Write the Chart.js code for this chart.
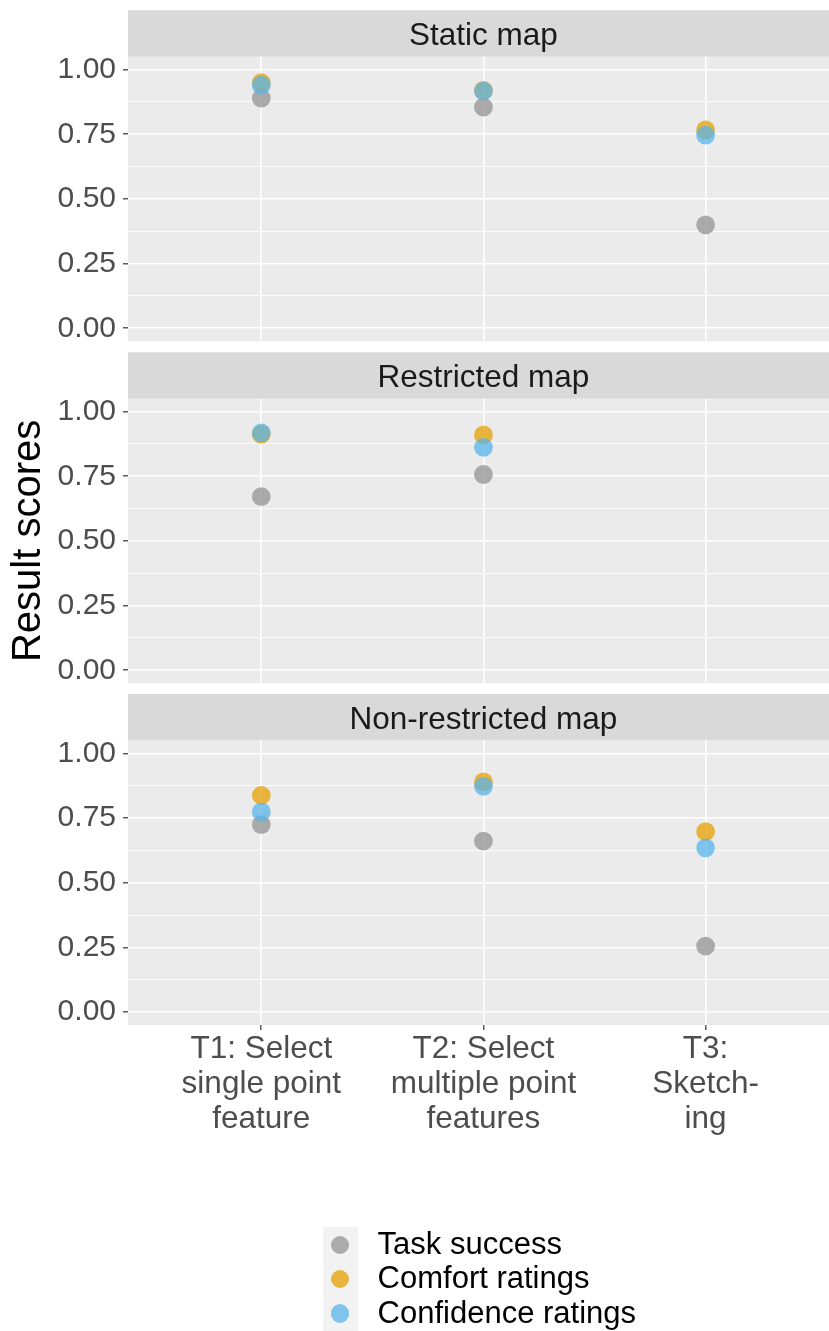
<!DOCTYPE html>
<html>
<head>
<meta charset="utf-8">
<script src="https://cdn.jsdelivr.net/npm/chart.js@4.4.1/dist/chart.umd.min.js"></script>
<style>
html,body{margin:0;padding:0;background:#ffffff;}
#wrap{position:relative;width:829px;height:1331px;overflow:hidden;font-family:"Liberation Sans",Arial,sans-serif;}
#wrap canvas{position:absolute;left:0;top:0;}
#legend{position:absolute;left:0;top:0;width:829px;height:1331px;pointer-events:none;}
.lkbg{position:absolute;background:#F2F2F2;}
.lk{position:absolute;border-radius:50%;}
.lt{position:absolute;font-size:31px;line-height:34px;color:#000;white-space:nowrap;}
</style>
</head>
<body>
<div id="wrap">
  <canvas id="c0" width="829" height="1331" style="width:829px;height:1331px"></canvas>
  <canvas id="c1" width="829" height="1331" style="width:829px;height:1331px"></canvas>
  <canvas id="c2" width="829" height="1331" style="width:829px;height:1331px"></canvas>
  <div id="legend"></div>
</div>
<script>
// ---------- data ----------
const panelTitles = ['Static map', 'Restricted map', 'Non-restricted map'];
const categories = ['T1', 'T2', 'T3'];
const xTickLabels = [
  ['T1: Select', 'single point', 'feature'],
  ['T2: Select', 'multiple point', 'features'],
  ['T3:', 'Sketch-', 'ing']
];
const yTickValues = [0, 0.25, 0.5, 0.75, 1];
const yTickLabels = ['0.00', '0.25', '0.50', '0.75', '1.00'];
const yGridValues = [0, 0.125, 0.25, 0.375, 0.5, 0.625, 0.75, 0.875, 1];
const yTitle = 'Result scores';
const seriesNames = ['Task success', 'Comfort ratings', 'Confidence ratings'];
const seriesColors = ['rgba(153,153,153,0.8)', 'rgba(230,159,0,0.74)', 'rgba(86,180,233,0.74)'];

const staticTask       = [0.890, 0.855, 0.400];
const staticComfort    = [0.950, 0.920, 0.767];
const staticConfidence = [0.940, 0.917, 0.747];

const restrictedTask       = [0.671, 0.757, null];
const restrictedComfort    = [0.912, 0.910, null];
const restrictedConfidence = [0.918, 0.862, null];

const nonRestrictedTask       = [0.725, 0.661, 0.255];
const nonRestrictedComfort    = [0.838, 0.890, 0.698];
const nonRestrictedConfidence = [0.774, 0.873, 0.635];

const panelSeries = [
  [staticTask, staticComfort, staticConfidence],
  [restrictedTask, restrictedComfort, restrictedConfidence],
  [nonRestrictedTask, nonRestrictedComfort, nonRestrictedConfidence]
];

// ---------- layout ----------
const FONT = '"Liberation Sans", Arial, sans-serif';
const CANVAS_H = 1331;
const panelTops = [56.7, 398.7, 740.5];
const panelH = 284.5;
const stripH = 46.5;
const yAxisW = 128;
// the panel is cropped at the right page edge (ggplot range 0.4 .. 3.6)
const xMin = 0.4, xMaxVisible = 3.5555;

const facetPlugin = {
  id: 'facet',
  beforeDraw(chart, args, opts) {
    const {ctx, chartArea: a} = chart;
    ctx.save();
    ctx.fillStyle = '#EBEBEB';
    ctx.fillRect(a.left, a.top, a.right - a.left, a.bottom - a.top);
    ctx.fillStyle = '#D9D9D9';
    ctx.fillRect(a.left, a.top - stripH, a.right - a.left, stripH);
    ctx.fillStyle = '#1A1A1A';
    ctx.font = '31.5px ' + FONT;
    ctx.textAlign = 'center';
    ctx.textBaseline = 'alphabetic';
    // strip label centred on the full (uncropped) panel, i.e. on the middle category
    const cx = chart.scales.x.getPixelForValue(2);
    ctx.fillText(opts.title, cx, a.top - stripH + 35);
    ctx.restore();
  }
};

const isMajor = v => yTickValues.indexOf(v) >= 0;

panelTitles.forEach((title, p) => {
  const isBottom = p === panelTitles.length - 1;
  const xAxisH = isBottom ? 140 : 0;
  const padBottom = CANVAS_H - panelTops[p] - panelH - xAxisH;
  const datasets = seriesNames.map((name, s) => ({
    label: name,
    data: panelSeries[p][s].map((v, i) => ({x: i + 1, y: v})).filter(pt => pt.y !== null),
    backgroundColor: seriesColors[s],
    borderWidth: 0,
    pointRadius: 9.4,
    pointHoverRadius: 9.4,
    order: seriesNames.length - s   // later series drawn on top, as in ggplot
  }));
  new Chart(document.getElementById('c' + p), {
    type: 'scatter',
    data: {datasets},
    plugins: [facetPlugin],
    options: {
      responsive: false,
      maintainAspectRatio: false,
      animation: false,
      events: [],
      layout: {autoPadding: false, padding: {top: panelTops[p], bottom: padBottom, left: 0, right: 0}},
      plugins: {
        legend: {display: false},
        tooltip: {enabled: false},
        facet: {title}
      },
      scales: {
        x: {
          type: 'linear',
          min: xMin,
          max: xMaxVisible,
          afterBuildTicks: s => { s.ticks = categories.map((c, i) => ({value: i + 1})); },
          afterFit: s => { s.height = xAxisH; },
          ticks: {
            display: isBottom,
            autoSkip: false,
            maxRotation: 0,
            minRotation: 0,
            padding: 1.5,
            color: '#4D4D4D',
            font: {family: FONT, size: 31.5, lineHeight: 1.12},
            callback: v => xTickLabels[Math.round(v) - 1]
          },
          grid: {
            color: '#FFFFFF',
            lineWidth: 1.6,
            drawTicks: isBottom,
            tickLength: 5,
            tickColor: '#333333',
            tickWidth: 1.2
          },
          border: {display: false}
        },
        y: {
          type: 'linear',
          min: -0.05,
          max: 1.05,
          afterBuildTicks: s => { s.ticks = yGridValues.map(v => ({value: v})); },
          afterFit: s => { s.width = yAxisW; },
          ticks: {
            autoSkip: false,
            padding: 7,
            color: '#4D4D4D',
            font: {family: FONT, size: 30},
            callback: v => { const i = yTickValues.indexOf(v); return i >= 0 ? yTickLabels[i] : ''; }
          },
          grid: {
            color: '#FFFFFF',
            lineWidth: ctx => (ctx.tick && isMajor(ctx.tick.value)) ? 1.6 : 0.8,
            drawTicks: true,
            tickLength: 5,
            tickColor: ctx => (ctx.tick && isMajor(ctx.tick.value)) ? '#333333' : 'rgba(0,0,0,0)',
            tickWidth: 1.2
          },
          border: {display: false},
          title: {
            display: p === 1,
            text: yTitle,
            color: '#000000',
            font: {family: FONT, size: 40},
            padding: {top: 5, bottom: 0}
          }
        }
      }
    }
  });
});

// ---------- legend ----------
const legend = document.getElementById('legend');
const bg = document.createElement('div');
bg.className = 'lkbg';
bg.style.left = '322.6px'; bg.style.top = '1227px';
bg.style.width = '35px'; bg.style.height = '110px';
legend.appendChild(bg);
seriesNames.forEach((name, i) => {
  const cy = 1245 + i * 34.2;
  const k = document.createElement('div');
  k.className = 'lk';
  k.style.left = (340 - 9.3) + 'px';
  k.style.top = (cy - 9.3) + 'px';
  k.style.width = '18.6px'; k.style.height = '18.6px';
  k.style.background = seriesColors[i];
  legend.appendChild(k);
  const t = document.createElement('div');
  t.className = 'lt';
  t.style.left = '377.6px';
  t.style.top = (cy - 17.8) + 'px';
  t.textContent = name;
  legend.appendChild(t);
});
</script>
</body>
</html>
